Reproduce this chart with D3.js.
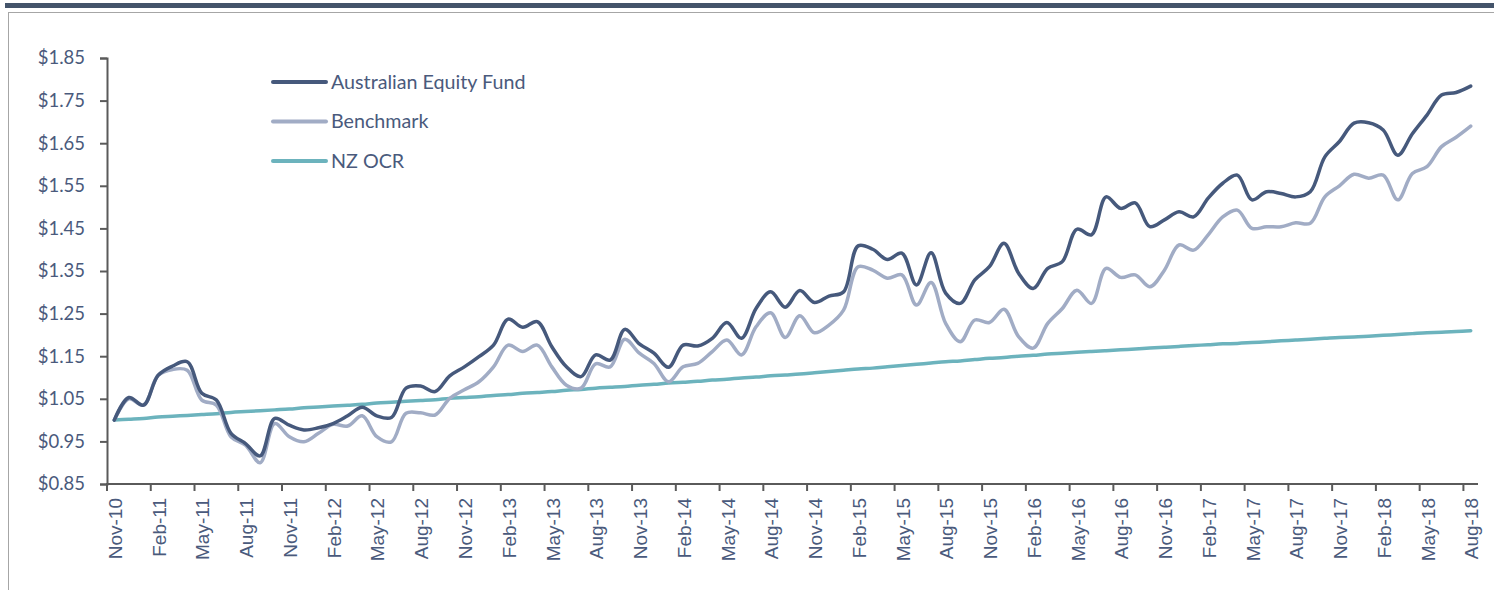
<!DOCTYPE html>
<html>
<head>
<meta charset="utf-8">
<script src="https://cdn.jsdelivr.net/npm/d3@7"></script>
<style>
  body { margin: 0; background: #fff; }
  svg { display: block; }
</style>
</head>
<body>
<div id="chart"></div>
<script>
// Monthly labels Nov-10 .. Aug-18
const months = ["Nov-10","Dec-10","Jan-11","Feb-11","Mar-11","Apr-11","May-11","Jun-11","Jul-11","Aug-11","Sep-11","Oct-11",
  "Nov-11","Dec-11","Jan-12","Feb-12","Mar-12","Apr-12","May-12","Jun-12","Jul-12","Aug-12","Sep-12","Oct-12",
  "Nov-12","Dec-12","Jan-13","Feb-13","Mar-13","Apr-13","May-13","Jun-13","Jul-13","Aug-13","Sep-13","Oct-13",
  "Nov-13","Dec-13","Jan-14","Feb-14","Mar-14","Apr-14","May-14","Jun-14","Jul-14","Aug-14","Sep-14","Oct-14",
  "Nov-14","Dec-14","Jan-15","Feb-15","Mar-15","Apr-15","May-15","Jun-15","Jul-15","Aug-15","Sep-15","Oct-15",
  "Nov-15","Dec-15","Jan-16","Feb-16","Mar-16","Apr-16","May-16","Jun-16","Jul-16","Aug-16","Sep-16","Oct-16",
  "Nov-16","Dec-16","Jan-17","Feb-17","Mar-17","Apr-17","May-17","Jun-17","Jul-17","Aug-17","Sep-17","Oct-17",
  "Nov-17","Dec-17","Jan-18","Feb-18","Mar-18","Apr-18","May-18","Jun-18","Jul-18","Aug-18"];

const fund = [1.000,1.053,1.035,1.105,1.127,1.137,1.063,1.047,0.969,0.945,0.916,1.004,
  0.988,0.977,0.982,0.992,1.010,1.030,1.010,1.006,1.075,1.080,1.067,1.104,
  1.125,1.149,1.176,1.237,1.218,1.231,1.172,1.125,1.102,1.153,1.141,1.213,
  1.179,1.157,1.124,1.176,1.174,1.192,1.229,1.192,1.262,1.301,1.265,1.304,
  1.276,1.291,1.301,1.409,1.401,1.377,1.392,1.317,1.393,1.298,1.274,1.329,
  1.360,1.415,1.345,1.309,1.356,1.372,1.448,1.435,1.524,1.497,1.510,1.454,
  1.470,1.489,1.477,1.521,1.556,1.575,1.517,1.536,1.532,1.524,1.536,1.618,
  1.654,1.697,1.698,1.681,1.622,1.672,1.716,1.763,1.769,1.784];

const benchmark = [1.000,1.050,1.035,1.105,1.119,1.117,1.047,1.035,0.961,0.941,0.900,0.992,
  0.961,0.949,0.969,0.990,0.986,1.010,0.961,0.949,1.016,1.017,1.012,1.051,
  1.071,1.090,1.125,1.176,1.161,1.176,1.125,1.082,1.075,1.132,1.125,1.190,
  1.157,1.133,1.090,1.125,1.133,1.161,1.188,1.153,1.219,1.252,1.194,1.245,
  1.205,1.223,1.258,1.360,1.352,1.333,1.341,1.270,1.323,1.227,1.184,1.235,
  1.229,1.260,1.196,1.169,1.227,1.262,1.305,1.274,1.356,1.335,1.341,1.313,
  1.352,1.411,1.399,1.435,1.477,1.493,1.450,1.454,1.454,1.463,1.462,1.524,
  1.550,1.577,1.568,1.575,1.517,1.579,1.595,1.642,1.664,1.690];

const nzOcr = [1.000,1.002,1.004,1.007,1.009,1.011,1.013,1.015,1.018,1.020,1.022,1.024,
  1.026,1.029,1.031,1.033,1.035,1.037,1.040,1.042,1.044,1.046,1.048,1.051,
  1.053,1.055,1.058,1.060,1.063,1.065,1.067,1.070,1.072,1.075,1.077,1.079,
  1.082,1.084,1.087,1.089,1.091,1.094,1.096,1.099,1.101,1.104,1.106,1.108,
  1.111,1.114,1.117,1.120,1.122,1.125,1.128,1.131,1.134,1.137,1.139,1.142,
  1.145,1.147,1.150,1.152,1.155,1.157,1.159,1.161,1.163,1.165,1.167,1.169,
  1.171,1.173,1.175,1.177,1.179,1.180,1.182,1.184,1.186,1.188,1.190,1.192,
  1.194,1.195,1.197,1.199,1.201,1.203,1.205,1.206,1.208,1.210];

const yTicks = [0.85, 0.95, 1.05, 1.15, 1.25, 1.35, 1.45, 1.55, 1.65, 1.75, 1.85];

const seriesList = [
  { name: "NZ OCR", values: nzOcr, color: "#6cb3bd" },
  { name: "Benchmark", values: benchmark, color: "#a1acc5" },
  { name: "Australian Equity Fund", values: fund, color: "#46597c" }
];
const legendOrder = ["Australian Equity Fund", "Benchmark", "NZ OCR"];

const width = 1494, height = 590;
const margin = { top: 58, right: 16, bottom: 106, left: 107 };
const axisColor = "#5a5a5a";
const textColor = "#4a5a7c";

const svg = d3.select("#chart").append("svg")
  .attr("width", width)
  .attr("height", height);

// top bar and frame
svg.append("rect").attr("x", 5).attr("y", 3).attr("width", width - 5).attr("height", 5).attr("fill", "#44546a");
svg.append("rect").attr("x", 8.5).attr("y", 12.5).attr("width", width).attr("height", height)
  .attr("fill", "none").attr("stroke", "#a6a6a6").attr("stroke-width", 1);

const x = d3.scaleBand()
  .domain(months)
  .range([margin.left, width - margin.right])
  .paddingInner(0).paddingOuter(0);

const y = d3.scaleLinear()
  .domain([0.85, 1.85])
  .range([height - margin.bottom, margin.top]);

const cx = m => x(m) + x.bandwidth() / 2;

// y axis
const yAxis = svg.append("g")
  .attr("transform", `translate(${margin.left},0)`)
  .call(d3.axisLeft(y).tickValues(yTicks).tickFormat(d => "$" + d.toFixed(2)).tickSize(7).tickPadding(15));
yAxis.select(".domain").attr("stroke", axisColor).attr("stroke-width", 2);
yAxis.selectAll(".tick line").attr("stroke", axisColor).attr("stroke-width", 2);
yAxis.selectAll("text")
  .attr("fill", textColor)
  .style("font-family", "Lato, 'Open Sans', sans-serif")
  .style("font-size", "18.5px");

// x axis: ticks at band starts, labels centred in each band
const xAxisG = svg.append("g").attr("transform", `translate(0,${height - margin.bottom})`);
xAxisG.append("line")
  .attr("x1", margin.left - 1).attr("x2", width - margin.right)
  .attr("y1", 0).attr("y2", 0)
  .attr("stroke", axisColor).attr("stroke-width", 2);

const labelled = months.filter((m, i) => i % 3 === 0);
xAxisG.selectAll(".xtick")
  .data(labelled)
  .join("line")
  .attr("class", "xtick")
  .attr("x1", d => x(d)).attr("x2", d => x(d))
  .attr("y1", 0).attr("y2", 7)
  .attr("stroke", axisColor).attr("stroke-width", 2);

xAxisG.selectAll(".xlabel")
  .data(labelled)
  .join("text")
  .attr("class", "xlabel")
  .attr("transform", d => `translate(${cx(d) + 1},14) rotate(-90)`)
  .attr("text-anchor", "end")
  .attr("dy", "0.35em")
  .attr("fill", textColor)
  .style("font-family", "'Liberation Sans', Arial, sans-serif")
  .style("font-size", "19px")
  .text(d => d);

// lines
const line = d3.line()
  .x((d, i) => cx(months[i]))
  .y(d => y(d))
  .curve(d3.curveCatmullRom.alpha(0.5));

svg.append("g")
  .selectAll("path")
  .data(seriesList)
  .join("path")
  .attr("d", d => line(d.values))
  .attr("fill", "none")
  .attr("stroke", d => d.color)
  .attr("stroke-width", 3.5)
  .attr("stroke-linejoin", "round")
  .attr("stroke-linecap", "round");

// legend
const legend = svg.append("g").attr("transform", "translate(273,82)");
const legendItems = legend.selectAll("g")
  .data(legendOrder.map(n => seriesList.find(s => s.name === n)))
  .join("g")
  .attr("transform", (d, i) => `translate(0,${i * 39.5})`);
legendItems.append("line")
  .attr("x1", 0).attr("x2", 53)
  .attr("stroke", d => d.color)
  .attr("stroke-width", 4)
  .attr("stroke-linecap", "round");
legendItems.append("text")
  .attr("x", 58)
  .attr("dy", "0.35em")
  .attr("fill", textColor)
  .style("font-family", "Lato, 'Open Sans', sans-serif")
  .style("font-size", "19.7px")
  .text(d => d.name);
</script>
</body>
</html>
